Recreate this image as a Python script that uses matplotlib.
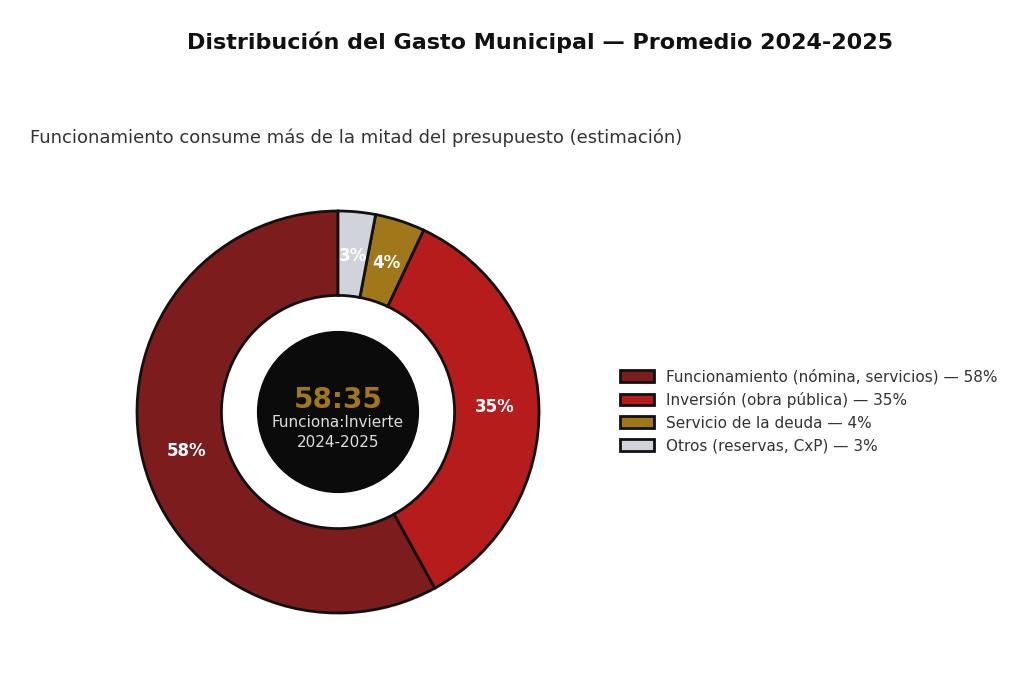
import matplotlib
matplotlib.use("Agg")
import matplotlib.pyplot as plt
from matplotlib.patches import Circle

labels = ["Funcionamiento (nómina, servicios) — 58%", "Inversión (obra pública) — 35%",
          "Servicio de la deuda — 4%", "Otros (reservas, CxP) — 3%"]
values = [58, 35, 4, 3]
colors = ["#7d1c1c", "#b71c1c", "#a0781a", "#d0d3da"]

fig = plt.figure(figsize=(10.24, 6.94), dpi=100)
ax = fig.add_axes([137/1024, 81/694, 402/1024, 402/694])
wedges, texts, autotexts = ax.pie(values, colors=colors, startangle=90, counterclock=True,
    autopct=lambda p: f"{p:.0f}%", pctdistance=0.78,
    wedgeprops=dict(width=0.42, edgecolor="#111111", linewidth=2),
    textprops=dict(color="white", fontsize=12, fontweight="bold"))
ax.add_patch(Circle((0, 0), 0.4, color="#0b0b0b", zorder=5))
ax.text(0, 0.06, "58:35", ha="center", va="center", fontsize=20, fontweight="bold", color="#a0781a", zorder=6)
ax.text(0, -0.05, "Funciona:Invierte", ha="center", va="center", fontsize=11, color="#dddddd", zorder=6)
ax.text(0, -0.15, "2024-2025", ha="center", va="center", fontsize=11, color="#dddddd", zorder=6)
ax.set_xlim(-1.0, 1.0); ax.set_ylim(-1.0, 1.0)
ax.set_aspect("equal"); ax.axis("off")

fig.text(540/1024, 1-42/694, "Distribución del Gasto Municipal — Promedio 2024-2025",
         ha="center", va="center", fontsize=16, fontweight="bold", color="#111111")
fig.text(30/1024, 1-138/694, "Funcionamiento consume más de la mitad del presupuesto (estimación)",
         ha="left", va="center", fontsize=13, color="#333333")
leg = fig.legend(wedges, labels, loc="center left", bbox_to_anchor=(0.592, 1-411/694),
                 frameon=False, fontsize=11, handlelength=2.2, handleheight=0.8)
for t in leg.get_texts():
    t.set_color("#333333")
fig.savefig("out.png", dpi=100)
